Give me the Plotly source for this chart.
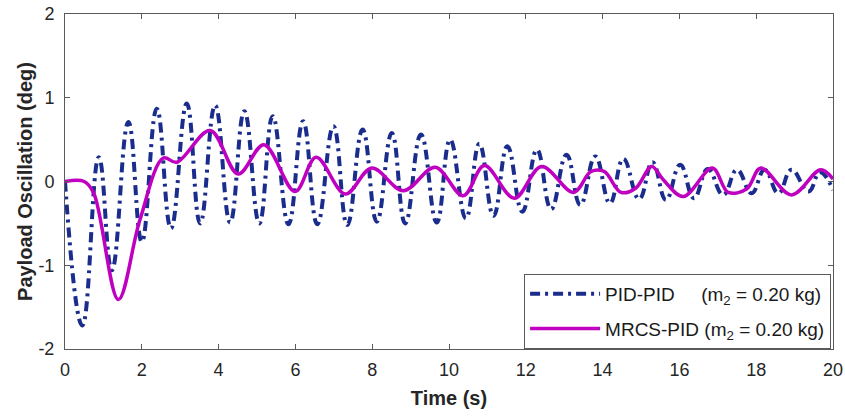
import plotly.graph_objects as go

# PID-PID payload oscillation (peaks and troughs)
t_pid = [0, 0.45, 0.88, 1.22, 1.65, 2.00, 2.39, 2.76, 3.17, 3.52, 3.91, 4.30,
         4.67, 5.06, 5.41, 5.82, 6.20, 6.57, 6.99, 7.35, 7.75, 8.12, 8.51, 8.86,
         9.27, 9.68, 10.03, 10.44, 10.79, 11.16, 11.52, 11.91, 12.29, 12.66,
         13.06, 13.42, 13.81, 14.19, 14.54, 14.95, 15.30, 15.65, 16.02, 16.38,
         16.74, 17.14, 17.50, 17.88, 18.22, 18.58, 18.92, 19.36, 19.66, 20.0]
y_pid = [0, -1.72, 0.29, -1.06, 0.71, -0.72, 0.87, -0.56, 0.93, -0.50, 0.91, -0.49,
         0.84, -0.50, 0.78, -0.51, 0.72, -0.51, 0.66, -0.52, 0.62, -0.48, 0.58, -0.50,
         0.56, -0.49, 0.50, -0.44, 0.45, -0.41, 0.42, -0.36, 0.38, -0.33,
         0.32, -0.28, 0.30, -0.26, 0.27, -0.21, 0.23, -0.22, 0.20, -0.20,
         0.15, -0.16, 0.14, -0.14, 0.14, -0.14, 0.14, -0.12, 0.11, -0.10]

# MRCS-PID
t_mrcs = [0, 0.5, 0.75, 1.39, 1.95, 2.56, 2.91, 3.78, 4.51, 5.18, 5.99, 6.54,
          7.30, 7.99, 8.81, 9.64, 10.37, 10.92, 11.70, 12.41, 13.24, 13.70, 14.04,
          14.48, 14.86, 15.28, 15.58, 16.10, 16.86, 17.27, 17.75, 18.12, 18.92,
          19.68, 20.0]
y_mrcs = [0, 0, -0.14, -1.41, -0.46, 0.28, 0.23, 0.61, 0.09, 0.44, -0.12, 0.29,
          -0.15, 0.16, -0.11, 0.17, -0.17, 0.19, -0.20, 0.18, -0.13, 0.12, 0.12,
          -0.13, -0.08, 0.18, 0.02, -0.18, 0.16, -0.13, -0.09, 0.16, -0.16,
          0.14, 0.03]

x_ticks = [0, 2, 4, 6, 8, 10, 12, 14, 16, 18, 20]
y_ticks = [-2, -1, 0, 1, 2]
y_tick_labels = ["-2", "-1", "0", "1", "2"]

nb = "\u00a0"
fig = go.Figure()
fig.add_trace(go.Scatter(
    x=t_pid, y=y_pid, mode="lines", legendgroup="pid",
    line=dict(color="#1a2d8c", width=4, dash="10px,5px,3px,5px", shape="spline", smoothing=1.3),
    name="PID-PID" + nb * 5 + "(m<sub>2</sub> = 0.20 kg)"
))
fig.add_trace(go.Scatter(
    x=t_mrcs, y=y_mrcs, mode="lines", legendgroup="mrcs",
    line=dict(color="#c000c0", width=3.5, shape="spline", smoothing=1.0),
    name="MRCS-PID (m<sub>2</sub> = 0.20 kg)"
))

axis_common = dict(
    showline=True, linecolor="#5a5a5a", linewidth=1, mirror="ticks",
    ticks="inside", ticklen=5, tickcolor="#5a5a5a",
    showgrid=False, zeroline=False, automargin=False,
    ticklabeloverflow="allow",
    tickfont=dict(size=18, color="#262626"),
)
fig.update_xaxes(range=[0, 20], tickvals=x_ticks, ticklabelstandoff=4,
                 title=dict(text="<b>Time (s)</b>", font=dict(size=20, color="#262626"), standoff=12),
                 **axis_common)
fig.update_yaxes(range=[-2, 2], tickvals=y_ticks, ticktext=y_tick_labels, ticklabelstandoff=6,
                 title=dict(text="<b>Payload Oscillation (deg)</b>", font=dict(size=20, color="#262626"), standoff=0),
                 **axis_common)

fig.update_layout(
    width=845, height=419,
    margin=dict(l=65, r=12, t=13.5, b=69.5),
    paper_bgcolor="white", plot_bgcolor="white",
    font=dict(family="Liberation Sans, Arial, sans-serif", color="#262626"),
    legend=dict(x=0.9975, y=0, xanchor="right", yanchor="bottom",
                bgcolor="white", bordercolor="#5a5a5a", borderwidth=1,
                font=dict(size=19, color="#1a1a1a"), itemwidth=70,
                tracegroupgap=7),
)

# drop the default page margin so the figure fills the window exactly
fig.write_html("out.html", config={"displayModeBar": False},
               post_script="document.body.style.margin='0';document.body.style.overflow='hidden';")
